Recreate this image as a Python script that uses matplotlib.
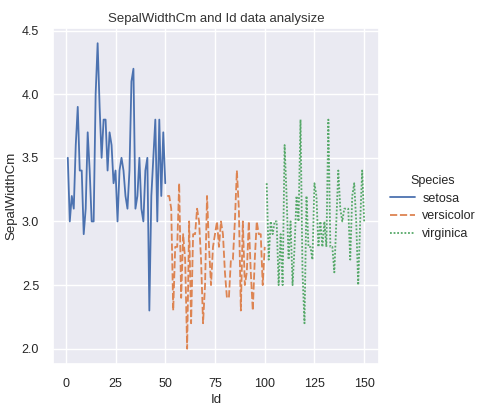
import numpy as np
import pandas as pd
import matplotlib
matplotlib.use("Agg")
import matplotlib.pyplot as plt
import seaborn as sns

# Iris SepalWidthCm by Id
setosa = [3.5, 3.0, 3.2, 3.1, 3.6, 3.9, 3.4, 3.4, 2.9, 3.1, 3.7, 3.4, 3.0, 3.0, 4.0,
          4.4, 3.9, 3.5, 3.8, 3.8, 3.4, 3.7, 3.6, 3.3, 3.4, 3.0, 3.4, 3.5, 3.4, 3.2,
          3.1, 3.4, 4.1, 4.2, 3.1, 3.2, 3.5, 3.1, 3.0, 3.4, 3.5, 2.3, 3.2, 3.5, 3.8,
          3.0, 3.8, 3.2, 3.7, 3.3]
versicolor = [3.2, 3.2, 3.1, 2.3, 2.8, 2.8, 3.3, 2.4, 2.9, 2.7, 2.0, 3.0, 2.2, 2.9, 2.9,
              3.1, 3.0, 2.7, 2.2, 2.5, 3.2, 2.8, 2.5, 2.8, 2.9, 3.0, 2.8, 3.0, 2.9, 2.6,
              2.4, 2.4, 2.7, 2.7, 3.0, 3.4, 3.1, 2.3, 3.0, 2.5, 2.6, 3.0, 2.6, 2.3, 2.7,
              3.0, 2.9, 2.9, 2.5, 2.8]
virginica = [3.3, 2.7, 3.0, 2.9, 3.0, 3.0, 2.5, 2.9, 2.5, 3.6, 3.2, 2.7, 3.0, 2.5, 2.8,
             3.2, 3.0, 3.8, 2.6, 2.2, 3.2, 2.8, 2.8, 2.7, 3.3, 3.2, 2.8, 3.0, 2.8, 3.0,
             2.8, 3.8, 2.8, 2.8, 2.6, 3.0, 3.4, 3.1, 3.0, 3.1, 3.1, 3.1, 2.7, 3.2, 3.3,
             3.0, 2.5, 3.0, 3.4, 3.0]
species_names = ["setosa", "versicolor", "virginica"]

widths = setosa + versicolor + virginica
species = [s for s, vals in zip(species_names, [setosa, versicolor, virginica]) for _ in vals]
df = pd.DataFrame({"Id": np.arange(1, len(widths) + 1),
                   "SepalWidthCm": widths,
                   "Species": species})

sns.set_theme(style="darkgrid")
plt.rcParams['font.family'] = ['Liberation Sans', 'DejaVu Sans']

fig = plt.figure(figsize=(4.79, 4.07), dpi=100)
ax = fig.add_axes([0.1106, 0.1057, 0.6806, 0.8256])
sns.lineplot(data=df, x="Id", y="SepalWidthCm", hue="Species", style="Species",
             ax=ax, linewidth=1.3, legend=True)

ax.set_title("SepalWidthCm and Id data analysize", fontsize=9.5, color="#333333", pad=4)
ax.set_xlabel("Id", fontsize=9.5, labelpad=3)
ax.set_ylabel("SepalWidthCm", fontsize=9.5, labelpad=3)
ax.set_xticks([0, 25, 50, 75, 100, 125, 150])
ax.set_yticks([2.0, 2.5, 3.0, 3.5, 4.0, 4.5])
ax.tick_params(labelsize=9, pad=4)

handles, labels = ax.get_legend_handles_labels()
ax.legend(handles, labels, title="Species", frameon=False, fontsize=9,
          title_fontsize=9, loc="center left", bbox_to_anchor=(0.79, 0.49),
          bbox_transform=fig.transFigure, handlelength=2.0, handletextpad=0.6,
          labelspacing=0.45)

fig.savefig("out.png", dpi=100)
